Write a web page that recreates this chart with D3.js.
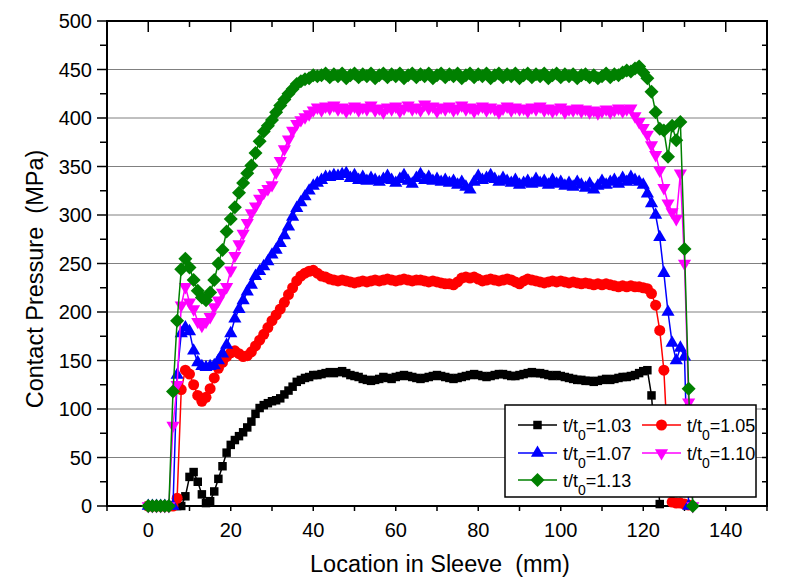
<!DOCTYPE html>
<html><head><meta charset="utf-8">
<script src="https://cdn.jsdelivr.net/npm/d3@7"></script>
<style>
body{margin:0;background:#fff}
svg{display:block}
text{font-family:"Liberation Sans",Arial,sans-serif;fill:#000}
</style>
</head><body><svg id="c" width="794" height="578"></svg>
<script>
// ---------- DATA ----------
const locations = [
0,1,2,3,4,5,6,7,8,9,
10,11,12,13,14,15,16,17,18,19,
20,21,22,23,24,25,26,27,28,29,
30,31,32,33,34,35,36,37,38,39,
40,41,42,43,44,45,46,47,48,49,
50,51,52,53,54,55,56,57,58,59,
60,61,62,63,64,65,66,67,68,69,
70,71,72,73,74,75,76,77,78,79,
80,81,82,83,84,85,86,87,88,89,
90,91,92,93,94,95,96,97,98,99,
100,101,102,103,104,105,106,107,108,109,
110,111,112,113,114,115,116,117,118,119,
120,121,122,123,124,125,126,127,128,129,
130,131,132];

const p103 = [
0,0,0,0,0,0,0,0,0,10,
30,35,25,12,3,5,15,28,41,55,
63,68,72,76,81,87,95,101,104,106,
108,109,111,115,119,123,128,130,132,133,
135,135,136,137,138,137,138,139,137,135,
134,133,131,130,129,130,131,133,132,131,
133,134,135,134,133,132,131,132,133,134,
135,134,133,132,131,132,133,134,135,136,
135,134,133,134,135,136,136,135,134,134,
135,136,137,138,137,137,136,135,134,135,
134,133,132,131,130,130,129,129,128,129,
130,131,130,131,132,133,133,134,135,137,
139,140,114,58,2,null,null,null,null,null,
null,null,null];

const p105 = [
0,0,0,0,0,0,0,8,120,140,
136,125,114,108,112,121,132,142,148,154,
158,160,157,154,155,159,165,171,177,184,
191,197,203,210,218,225,232,237,240,242,
243,240,237,236,234,233,232,233,232,231,
230,231,232,231,232,233,232,233,234,233,
232,233,234,233,232,233,233,232,231,232,
231,230,229,229,228,231,235,236,235,236,
234,232,233,234,233,232,233,234,233,231,
229,232,234,233,232,231,230,231,232,231,
232,231,230,231,230,229,230,229,228,229,
228,229,228,227,226,227,226,227,226,226,
225,224,219,207,181,140,55,4,3,3,
2,1,null];

const p107 = [
0,0,0,0,0,0,0,135,178,184,
180,160,148,144,143,144,145,150,157,166,
178,193,203,212,221,228,237,242,247,252,
259,264,271,279,288,298,307,313,319,325,
330,333,336,339,339,341,340,342,343,338,
341,336,339,335,338,336,334,337,340,336,
333,337,341,335,332,338,342,336,339,335,
337,334,336,333,335,331,334,329,326,334,
340,336,338,341,337,334,338,335,333,336,
331,333,335,332,337,333,335,331,336,332,
334,330,333,329,334,331,328,332,326,330,
335,331,334,336,332,338,334,339,336,334,
331,322,312,300,277,240,200,168,150,163,
154,0,null];

const p110 = [
0,0,0,0,0,0,83,125,207,226,
210,203,190,186,190,195,205,212,220,226,
243,258,270,281,292,302,309,317,323,327,
331,344,356,368,378,387,394,398,401,404,
408,411,408,412,410,413,409,411,407,410,
412,408,411,409,413,408,410,406,411,409,
412,407,410,413,409,411,408,414,410,412,
407,411,409,412,408,410,413,409,411,407,
410,412,408,411,409,406,410,412,408,411,
409,410,407,411,409,412,408,410,407,409,
411,406,409,408,410,407,409,406,408,405,
407,409,406,408,410,407,409,410,402,396,
390,383,372,362,346,328,312,303,296,343,
250,107,0];

const p113 = [
0,0,0,0,0,0,118,191,244,255,
246,233,222,215,212,220,233,250,264,283,
296,308,323,333,343,351,364,376,386,392,
398,406,413,419,425,430,435,438,440,441,
444,443,444,446,442,445,443,446,441,444,
446,442,445,443,446,441,444,446,442,445,
443,446,441,444,446,442,445,443,446,441,
444,446,442,445,443,446,441,444,446,442,
445,443,446,441,444,446,442,445,443,446,
441,444,446,442,445,443,446,441,444,446,
442,445,443,445,441,444,445,442,444,441,
443,446,442,445,444,447,449,448,451,453,
447,441,427,406,389,387,360,392,377,396,
265,121,0];

const ratioLabels = ["1.03","1.05","1.07","1.10","1.13"];
const seriesValues = [p103, p105, p107, p110, p113];
const seriesColors = ["#000000","#ff0000","#0000ff","#ff00ff","#008000"];
const xTickLabels = [0,20,40,60,80,100,120,140];
const xMinorTicks = [-10,0,10,20,30,40,50,60,70,80,90,100,110,120,130,140,150];
const yTickLabels = [0,50,100,150,200,250,300,350,400,450,500];
const yMinorTicks = [25,75,125,175,225,275,325,375,425,475];
const gridValues = [50,100,150,200,250,300,350,400,450];

// ---------- LAYOUT ----------
const L = 107, R = 767, T = 21, B = 506;
const svg = d3.select("#c");
const x = d3.scaleLinear().domain([-10,150]).range([L,R]);
const y = d3.scaleLinear().domain([0,500]).range([B,T]);

// grid
svg.append("g").selectAll("line").data(gridValues).join("line")
  .attr("x1",L).attr("x2",R).attr("y1",d=>y(d)).attr("y2",d=>y(d))
  .attr("stroke","#808080").attr("stroke-width",1);

// frame
svg.append("rect").attr("x",L).attr("y",T).attr("width",R-L).attr("height",B-T)
  .attr("fill","none").attr("stroke","#000").attr("stroke-width",2);

const ax = svg.append("g").attr("stroke","#000").attr("stroke-width",1.5);
ax.selectAll(".bt").data(xMinorTicks).join("line")
  .attr("x1",d=>x(d)).attr("x2",d=>x(d)).attr("y1",B).attr("y2",B+5);
ax.selectAll(".tt").data(xMinorTicks).join("line")
  .attr("x1",d=>x(d)).attr("x2",d=>x(d)).attr("y1",T)
  .attr("y2",d=> (xTickLabels.includes(d) ? T+11 : T+6));
ax.selectAll(".lt").data(yTickLabels.concat(yMinorTicks)).join("line")
  .attr("y1",d=>y(d)).attr("y2",d=>y(d)).attr("x1",L)
  .attr("x2",d=> (yTickLabels.includes(d) ? L-10 : L-7));
ax.selectAll(".rt").data(yTickLabels.concat(yMinorTicks)).join("line")
  .attr("y1",d=>y(d)).attr("y2",d=>y(d)).attr("x1",R).attr("x2",R-5);

svg.append("g").selectAll("text").data(xTickLabels).join("text")
  .attr("x",d=>x(d)).attr("y",537).attr("text-anchor","middle")
  .attr("font-size",20).text(d=>d);
svg.append("g").selectAll("text").data(yTickLabels).join("text")
  .attr("x",92).attr("y",d=>y(d)).attr("dy","0.36em").attr("text-anchor","end")
  .attr("font-size",20).text(d=>d);

// axis titles
svg.append("text").attr("x",440).attr("y",572).attr("text-anchor","middle")
  .attr("font-size",23.5).attr("xml:space","preserve").style("white-space","pre")
  .text("Location in Sleeve  (mm)");
svg.append("text").attr("transform","translate(43,279) rotate(-90)")
  .attr("text-anchor","middle").attr("font-size",23.5)
  .attr("xml:space","preserve").style("white-space","pre")
  .text("Contact Pressure  (MPa)");

// symbols
const symbolDefs = [
  {type:d3.symbolSquare, size:72, rot:0},
  {type:d3.symbolCircle, size:95, rot:0},
  {type:d3.symbolTriangle, size:75, rot:0},
  {type:d3.symbolTriangle, size:75, rot:180},
  {type:d3.symbolSquare, size:98, rot:45}
];

const line = d3.line().defined(d=>d[1]!==null).x(d=>x(d[0])).y(d=>y(d[1]));

seriesValues.forEach((vals,i)=>{
  const pts = locations.map((loc,j)=>[loc, vals[j]]);
  const g = svg.append("g");
  g.append("path").datum(pts).attr("d",line).attr("fill","none")
    .attr("stroke",seriesColors[i]).attr("stroke-width",1.5);
  const sym = d3.symbol(symbolDefs[i].type, symbolDefs[i].size);
  g.selectAll("path.m").data(pts.filter(d=>d[1]!==null)).join("path")
    .attr("class","m").attr("d",sym)
    .attr("transform",d=>`translate(${x(d[0])},${y(d[1])}) rotate(${symbolDefs[i].rot})`)
    .attr("fill",seriesColors[i]);
});

// legend
const lg = svg.append("g");
lg.append("rect").attr("x",505).attr("y",405).attr("width",251).attr("height",92)
  .attr("fill","#fff").attr("stroke","#000").attr("stroke-width",1.5);
const colX = [518, 642];
const rowY = [425, 453, 480];
ratioLabels.forEach((lab,i)=>{
  const cx = colX[i%2], cy = rowY[Math.floor(i/2)];
  lg.append("line").attr("x1",cx).attr("x2",cx+39).attr("y1",cy).attr("y2",cy)
    .attr("stroke",seriesColors[i]).attr("stroke-width",1.5);
  lg.append("path").attr("d",d3.symbol(symbolDefs[i].type, symbolDefs[i].size)())
    .attr("transform",`translate(${cx+19.5},${cy}) rotate(${symbolDefs[i].rot})`)
    .attr("fill",seriesColors[i]);
  const t = lg.append("text").attr("x",cx+45).attr("y",cy+7).attr("font-size",18);
  t.append("tspan").text("t/t");
  t.append("tspan").attr("font-size",14).attr("dy",8).text("0");
  t.append("tspan").attr("dy",-8).text("=" + lab);
});
</script>
</body></html>
